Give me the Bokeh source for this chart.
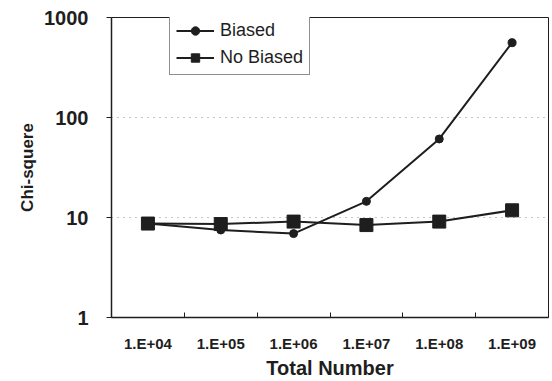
from bokeh.plotting import figure
from bokeh.models import FixedTicker, NumeralTickFormatter, Range1d, Legend, LegendItem, ColumnDataSource
from bokeh.embed import file_html
from bokeh.resources import INLINE

categories = ["1.E+04", "1.E+05", "1.E+06", "1.E+07", "1.E+08", "1.E+09"]
biased = [8.7, 7.5, 6.9, 14.5, 61, 560]
no_biased = [8.7, 8.6, 9.1, 8.4, 9.1, 11.8]
y_ticks = [1, 10, 100, 1000]

xpos = [i + 0.5 for i in range(len(categories))]
src = ColumnDataSource(dict(x=xpos, b=biased, n=no_biased))

FONT = "Liberation Sans"
INK = "#1e1e1e"

p = figure(width=552, height=381, output_backend="svg", toolbar_location=None,
           y_axis_type="log", x_range=Range1d(0, len(categories)), y_range=Range1d(1, 1000),
           min_border_left=111, min_border_right=4, min_border_top=17, min_border_bottom=62)
p.background_fill_color = "white"
p.border_fill_color = "white"
p.outline_line_color = INK
p.outline_line_width = 1

# x axis
p.xaxis.ticker = FixedTicker(ticks=xpos, minor_ticks=[float(i) for i in range(1, len(categories))])
p.xaxis.major_label_overrides = {x: c for x, c in zip(xpos, categories)}
p.xaxis.major_tick_in = 0
p.xaxis.major_tick_out = 0
p.xaxis.minor_tick_in = 5
p.xaxis.minor_tick_out = 0
p.xaxis.minor_tick_line_color = INK
p.xaxis.major_label_standoff = 17
p.xaxis.major_label_text_font = FONT
p.xaxis.major_label_text_font_style = "bold"
p.xaxis.major_label_text_font_size = "15px"
p.xaxis.major_label_text_color = INK
p.xaxis.axis_label = "Total Number"
p.xaxis.axis_label_text_font = FONT
p.xaxis.axis_label_text_font_style = "bold"
p.xaxis.axis_label_text_font_size = "20px"
p.xaxis.axis_label_text_color = INK
p.xaxis.axis_label_standoff = 2
p.xaxis.axis_line_color = INK
p.xaxis.axis_line_width = 1.5

# y axis
p.yaxis.ticker = FixedTicker(ticks=y_ticks, minor_ticks=[])
p.yaxis.formatter = NumeralTickFormatter(format="0")
p.yaxis.major_tick_in = 0
p.yaxis.major_tick_out = 5
p.yaxis.major_tick_line_color = INK
p.yaxis.major_label_standoff = 18
p.yaxis.major_label_text_font = FONT
p.yaxis.major_label_text_font_style = "bold"
p.yaxis.major_label_text_font_size = "20px"
p.yaxis.major_label_text_color = INK
p.yaxis.axis_label = "Chi-squere"
p.yaxis.axis_label_text_font = FONT
p.yaxis.axis_label_text_font_style = "bold"
p.yaxis.axis_label_text_font_size = "17px"
p.yaxis.axis_label_text_color = INK
p.yaxis.axis_label_standoff = 4
p.yaxis.axis_line_color = INK
p.yaxis.axis_line_width = 1.5

p.xgrid.visible = False
p.ygrid.grid_line_color = "#888888"
p.ygrid.grid_line_dash = "1 5"
p.ygrid.grid_line_width = 1

lb = p.line("x", "b", source=src, line_color=INK, line_width=2)
sb = p.scatter("x", "b", source=src, marker="circle", size=8, fill_color=INK, line_color=INK)
ln = p.line("x", "n", source=src, line_color=INK, line_width=2)
sn = p.scatter("x", "n", source=src, marker="square", size=13, fill_color=INK, line_color=INK)

legend = Legend(items=[LegendItem(label="Biased", renderers=[lb, sb]),
                       LegendItem(label="No Biased", renderers=[ln, sn])],
                location=(58, 242))
legend.margin = 0
legend.padding = 6
legend.spacing = 6
legend.glyph_width = 38
legend.glyph_height = 21
legend.label_height = 21
legend.label_standoff = 6
legend.label_text_font = FONT
legend.label_text_font_size = "18px"
legend.label_text_color = INK
legend.border_line_color = INK
legend.border_line_width = 1
legend.background_fill_alpha = 1
p.add_layout(legend, "center")

open("out.html", "w").write(file_html(p, INLINE))
